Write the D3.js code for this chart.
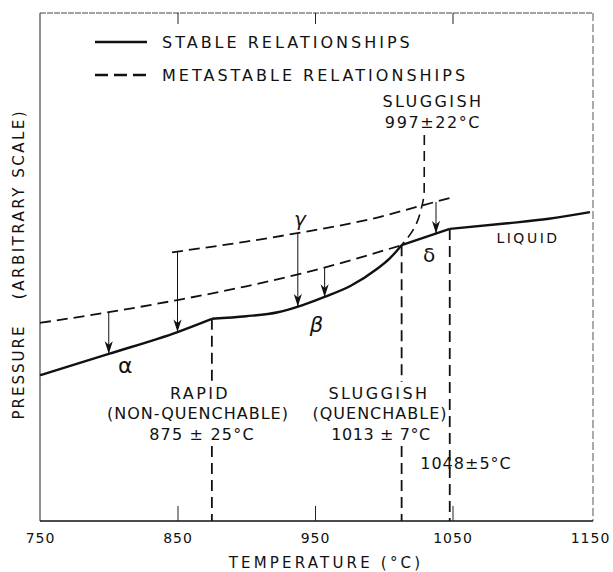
<!DOCTYPE html>
<html>
<head>
<meta charset="utf-8">
<script src="https://cdn.jsdelivr.net/npm/d3@7"></script>
<style>
  body { margin: 0; background: #fff; }
  text { font-family: "DejaVu Sans", sans-serif; fill: #111; }
</style>
</head>
<body>
<div id="chart"></div>
<script>
// tick labels for temperature (°C)
var tempTicks = [750, 850, 950, 1050, 1150];

// stable curves [temperature, pressure (arbitrary 0-100)]
var stableAlpha = [[750, 28.7], [800, 32.9], [850, 37.2], [875, 39.8]];
var stableBeta = [[875, 39.8], [900, 40.3], [923, 41.1], [940, 42.4], [957, 44.1], [976, 46.3], [995, 49.6], [1004, 51.6], [1013, 54.3]];
var stableDelta = [[1013, 54.3], [1048, 57.5]];
var stableLiquid = [[1048, 57.5], [1090, 58.6], [1120, 59.5], [1150, 60.8]];

// metastable curves
var metaLower = [[750, 39.0], [800, 41.1], [850, 43.5], [900, 46.2], [950, 49.4], [1013, 54.3]];
var metaUpper = [[846, 52.9], [900, 55.0], [940, 56.8], [990, 59.4], [1029, 62.2], [1051, 63.8]];
var metaSluggish = [[1029.5, 76], [1029.4, 65], [1027.4, 61.6], [1021.4, 57.3], [1013, 54.3]];

// transition temperatures and the pressure where the vertical dashed line starts
var transT = [875, 1013, 1048];
var transP = [39.8, 54.3, 57.5];

// arrows (metastable -> stable)
var arrowT = [800, 850, 937.5, 957, 1038];
var arrowFrom = [41.1, 53.1, 56.7, 50.0, 62.8];
var arrowTo = [32.9, 37.2, 42.2, 44.1, 56.6];

var W = 613, H = 572;
var margin = {top: 13, right: 23, bottom: 51, left: 40};

var svg = d3.select("#chart").append("svg")
   .attr("width", W)
   .attr("height", H);

var x = d3.scaleLinear().domain([750, 1150]).range([margin.left, W - margin.right]);
var y = d3.scaleLinear().domain([0, 100]).range([H - margin.bottom, margin.top]);

// arrow head (points along +x, rotated by orient=auto)
svg.append("defs").append("marker")
   .attr("id", "head")
   .attr("markerUnits", "userSpaceOnUse")
   .attr("viewBox", "0 0 14 10")
   .attr("refX", 14).attr("refY", 5)
   .attr("markerWidth", 14).attr("markerHeight", 9)
   .attr("orient", "auto")
   .append("path")
   .attr("d", "M0,0.5 L4,5 L0,9.5 L14,5 Z")
   .attr("fill", "#111");

// frame
var x0 = x(750), x1 = x(1150) + 3, yb = y(0), yt = y(100);
svg.append("line").attr("x1", x0).attr("x2", x0).attr("y1", yt).attr("y2", yb)
   .attr("stroke", "#222").attr("stroke-width", 1);
svg.append("line").attr("x1", x0).attr("x2", x1).attr("y1", yt).attr("y2", yt)
   .attr("stroke", "#444").attr("stroke-width", 1).attr("stroke-dasharray", "6,1");
svg.append("line").attr("x1", x1).attr("x2", x1).attr("y1", yt).attr("y2", yb)
   .attr("stroke", "#555").attr("stroke-width", 1).attr("stroke-dasharray", "8,3");
svg.append("line").attr("x1", x0).attr("x2", x1).attr("y1", yb).attr("y2", yb)
   .attr("stroke", "#111").attr("stroke-width", 1.6);

// bottom axis: inward ticks + labels
var xAxis = d3.axisBottom(x).tickValues(tempTicks).tickSize(-15).tickPadding(12)
   .tickFormat(d3.format("d"));
var gx = svg.append("g").attr("transform", "translate(0," + yb + ")").call(xAxis);
gx.select(".domain").remove();
gx.selectAll(".tick line")
   .attr("stroke", "#222")
   .attr("stroke-width", 1)
   .style("display", function(d) { return (d == 750 || d == 1150) ? "none" : null; });
gx.selectAll(".tick text")
   .style("font-family", "DejaVu Sans")
   .style("font-size", "14px")
   .style("letter-spacing", "1px")
   .attr("fill", "#111");

// top axis: inward ticks only
var topAxis = d3.axisTop(x).tickValues([850, 950, 1050]).tickSize(-11).tickFormat("");
var gt = svg.append("g").attr("transform", "translate(0," + yt + ")").call(topAxis);
gt.select(".domain").remove();
gt.selectAll(".tick line").attr("stroke", "#222").attr("stroke-width", 1);

var line = d3.line()
   .x(function(d) { return x(d[0]); })
   .y(function(d) { return y(d[1]); })
   .curve(d3.curveMonotoneX);

// stable curves
[stableAlpha, stableBeta, stableDelta, stableLiquid].forEach(function(seg) {
   svg.append("path").datum(seg)
      .attr("d", line)
      .attr("fill", "none")
      .attr("stroke", "#111")
      .attr("stroke-width", 2.4)
      .attr("stroke-linejoin", "round");
});

// metastable curves
[metaLower, metaUpper].forEach(function(seg) {
   svg.append("path").datum(seg)
      .attr("d", line)
      .attr("fill", "none")
      .attr("stroke", "#111")
      .attr("stroke-width", 1.8)
      .attr("stroke-dasharray", "11,6");
});
svg.append("path").datum(metaSluggish)
   .attr("d", d3.line().x(function(d) { return x(d[0]); }).y(function(d) { return y(d[1]); })
      .curve(d3.curveMonotoneY))
   .attr("fill", "none")
   .attr("stroke", "#111")
   .attr("stroke-width", 1.6)
   .attr("stroke-dasharray", "10,6");

// vertical dashed transition lines (875 and 1013 are broken by the text block)
var gapTop = 382, gapBottom = 446;
transT.forEach(function(t, i) {
   var segs = (t == 1048) ? [[y(transP[i]), y(0)]] : [[y(transP[i]), gapTop], [gapBottom, y(0)]];
   segs.forEach(function(s) {
      svg.append("line")
         .attr("x1", x(t)).attr("x2", x(t))
         .attr("y1", s[0]).attr("y2", s[1])
         .attr("stroke", "#111")
         .attr("stroke-width", 1.8)
         .attr("stroke-dasharray", "11,6");
   });
});

// arrows
svg.selectAll(".arrow")
   .data(arrowT).enter()
   .append("line").attr("class", "arrow")
   .attr("x1", function(d) { return x(d); })
   .attr("x2", function(d) { return x(d); })
   .attr("y1", function(d, i) { return y(arrowFrom[i]); })
   .attr("y2", function(d, i) { return y(arrowTo[i]); })
   .attr("stroke", "#111")
   .attr("stroke-width", 1)
   .attr("marker-end", "url(#head)");

// greek phase labels
function label(t, p, txt, size, italic) {
   svg.append("text")
      .attr("x", x(t)).attr("y", y(p))
      .attr("text-anchor", "middle")
      .attr("dominant-baseline", "central")
      .style("font-size", size + "px")
      .style("font-style", italic ? "italic" : "normal")
      .text(txt);
}
label(812, 30.7, "α", 22, false);
label(939, 59.5, "γ", 20, true);
label(951, 38.6, "β", 21, true);
label(1033, 52.4, "δ", 20, false);

// annotations
function note(cx, cy, txt, size, ls) {
   svg.append("text")
      .attr("x", cx).attr("y", cy)
      .attr("text-anchor", "middle")
      .attr("dominant-baseline", "central")
      .style("font-size", size + "px")
      .style("letter-spacing", ls + "px")
      .text(txt);
}
note(528, 238, "LIQUID", 14, 2.5);
note(433, 101, "SLUGGISH", 16, 2.4);
note(433, 122, "997±22°C", 16, 1.6);
note(200, 393, "RAPID", 16, 2.4);
note(198, 413, "(NON-QUENCHABLE)", 16, 1);
note(202, 434, "875 ± 25°C", 16, 1.2);
note(379, 393, "SLUGGISH", 16, 2.4);
note(380, 413, "(QUENCHABLE)", 16, 1);
note(381, 434, "1013 ± 7°C", 16, 0.6);
note(466, 463, "1048±5°C", 16, 1);

// legend
svg.append("line").attr("x1", 95).attr("x2", 147).attr("y1", 42).attr("y2", 42)
   .attr("stroke", "#111").attr("stroke-width", 2.4);
svg.append("line").attr("x1", 95).attr("x2", 147).attr("y1", 75).attr("y2", 75)
   .attr("stroke", "#111").attr("stroke-width", 2.4).attr("stroke-dasharray", "13,6");
svg.append("text").attr("x", 162).attr("y", 42).attr("dominant-baseline", "central")
   .style("font-size", "16px").style("letter-spacing", "3px")
   .text("STABLE RELATIONSHIPS");
svg.append("text").attr("x", 162).attr("y", 75).attr("dominant-baseline", "central")
   .style("font-size", "16px").style("letter-spacing", "3px")
   .text("METASTABLE RELATIONSHIPS");

// axis titles
svg.append("text")
   .attr("x", 326).attr("y", 563)
   .attr("text-anchor", "middle").attr("dominant-baseline", "central")
   .style("font-size", "15px").style("letter-spacing", "3.2px")
   .text("TEMPERATURE (°C)");

svg.append("text")
   .attr("transform", "translate(19,372) rotate(-90)")
   .attr("text-anchor", "middle").attr("dominant-baseline", "central")
   .style("font-size", "15px").style("letter-spacing", "2px")
   .text("PRESSURE");
svg.append("text")
   .attr("transform", "translate(19,204) rotate(-90)")
   .attr("text-anchor", "middle").attr("dominant-baseline", "central")
   .style("font-size", "15px").style("letter-spacing", "2.5px")
   .text("(ARBITRARY SCALE)");
</script>
</body>
</html>
